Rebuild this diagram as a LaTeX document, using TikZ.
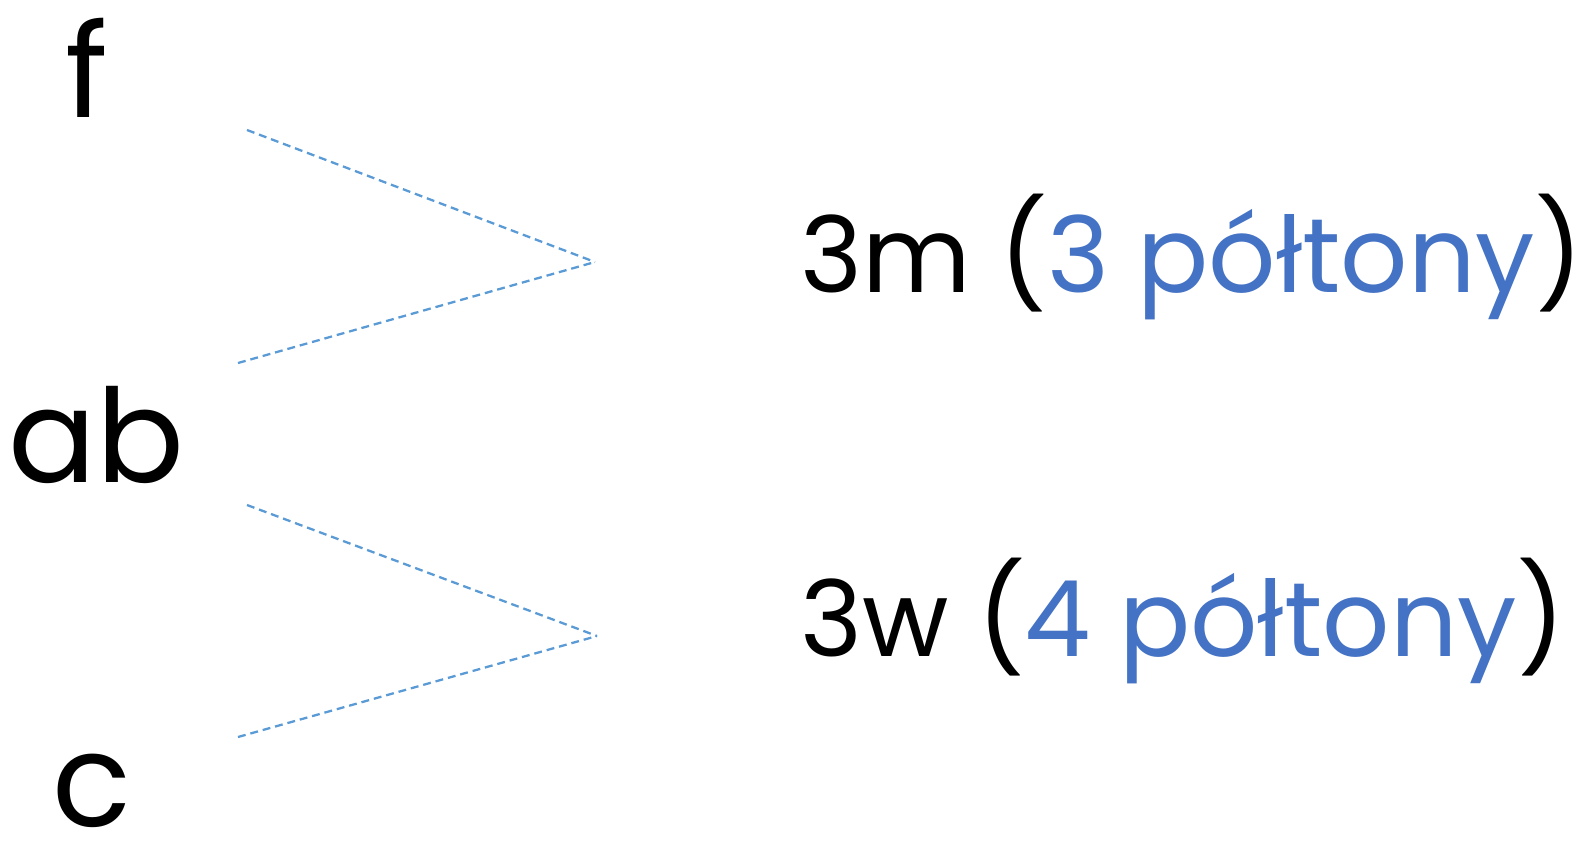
\documentclass[tikz,border=0pt]{standalone}
\usepackage{fontspec}
\setmainfont{Poppins}
\usepackage{tikz}
\usetikzlibrary{positioning}
\definecolor{tonblue}{HTML}{4472C4}
\definecolor{lineblue}{HTML}{5B9BD5}

\begin{document}
\begin{tikzpicture}[
    x=0.02cm, y=-0.02cm,
    note/.style={anchor=base, inner sep=0pt, font=\fontsize{74}{80}\selectfont},
    interval/.style={anchor=base west, inner sep=0pt, font=\fontsize{60}{66}\selectfont},
    myedge/.style={lineblue, line width=1.3pt, dash pattern=on 4.5pt off 2.8pt}
]
\useasboundingbox (0,0) rectangle (1582,853);

\node[note] (F) at (87,117) {f};
\node[note] (Ab) at (96,482) {ab};
\node[note] (C) at (92,826) {c};

\node[interval] (Minor) at (800,292) {3m (\textcolor{tonblue}{3 półtony})};
\node[interval] (Major) at (800,656) {3w (\textcolor{tonblue}{4 półtony})};

\coordinate (t1) at (247,130);
\coordinate (m1) at (595,262);
\coordinate (b1) at (238,363);
\coordinate (t2) at (247,505);
\coordinate (m2) at (597,636);
\coordinate (b2) at (238,737);

\draw[myedge] (t1) -- (m1);
\draw[myedge] (b1) -- (m1);
\draw[myedge] (t2) -- (m2);
\draw[myedge] (b2) -- (m2);
\end{tikzpicture}
\end{document}
